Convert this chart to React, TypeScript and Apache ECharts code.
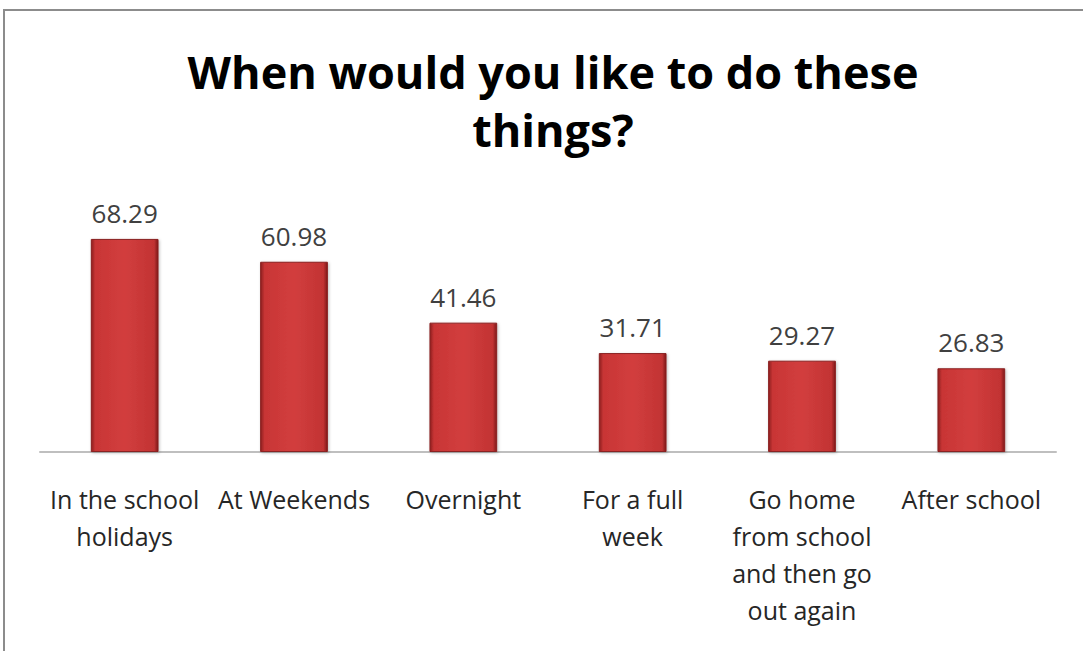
import React, { useEffect, useRef } from "react";
import * as echarts from "echarts";

const categories = [
  "In the school\nholidays",
  "At Weekends",
  "Overnight",
  "For a full\nweek",
  "Go home\nfrom school\nand then go\nout again",
  "After school",
];
const values = [68.29, 60.98, 41.46, 31.71, 29.27, 26.83];
const titleText = "When would you like to do these\nthings?";

export default function App() {
  const ref = useRef<HTMLDivElement>(null);
  useEffect(() => {
    if (!ref.current) return;
    const chart = echarts.init(ref.current, null, { renderer: "svg" });
    const font = "'Open Sans', Lato, sans-serif";
    chart.setOption({
      animation: false,
      backgroundColor: "#ffffff",
      title: {
        text: titleText,
        left: 548,
        textAlign: "center",
        top: 37,
        textStyle: {
          fontFamily: font,
          fontSize: 45,
          fontWeight: "bold",
          color: "#000000",
          lineHeight: 58,
        },
      },
      graphic: [
        {
          type: "rect",
          shape: { x: 4, y: 10, width: 1200, height: 800 },
          style: { fill: "none", stroke: "#8c8c8c", lineWidth: 2 },
          silent: true,
          z: 100,
        },
      ],
      grid: { left: 40, right: 27, top: 233.6, bottom: 199, containLabel: false },
      xAxis: {
        type: "category",
        data: categories,
        axisLine: { show: true, lineStyle: { color: "#bfbfbf", width: 2 } },
        axisTick: { show: false },
        axisLabel: {
          interval: 0,
          margin: 28,
          fontFamily: font,
          fontSize: 25,
          lineHeight: 37,
          color: "#262626",
        },
      },
      yAxis: {
        type: "value",
        min: 0,
        max: 70,
        show: false,
        splitLine: { show: false },
      },
      series: [
        {
          type: "bar",
          data: values,
          barWidth: "40%",
          itemStyle: {
            color: {
              type: "linear",
              x: 0,
              y: 0,
              x2: 1,
              y2: 0,
              colorStops: [
                { offset: 0, color: "#8e1f1f" },
                { offset: 0.06, color: "#c83535" },
                { offset: 0.5, color: "#d23e3e" },
                { offset: 0.94, color: "#c23333" },
                { offset: 1, color: "#7e1a1a" },
              ],
            },
            borderColor: "#8a2020",
            borderWidth: 1,
            shadowColor: "rgba(0,0,0,0.25)",
            shadowBlur: 3,
            shadowOffsetX: 1,
            shadowOffsetY: 1,
          },
          label: {
            show: true,
            position: "top",
            distance: 13,
            fontFamily: font,
            fontSize: 26,
            color: "#404040",
            formatter: (p: any) => p.value.toFixed(2),
          },
        },
      ],
    });
    return () => chart.dispose();
  }, []);
  return (
    <div
      ref={ref}
      style={{ position: "fixed", left: 0, top: 0, width: 1083, height: 651 }}
    />
  );
}
